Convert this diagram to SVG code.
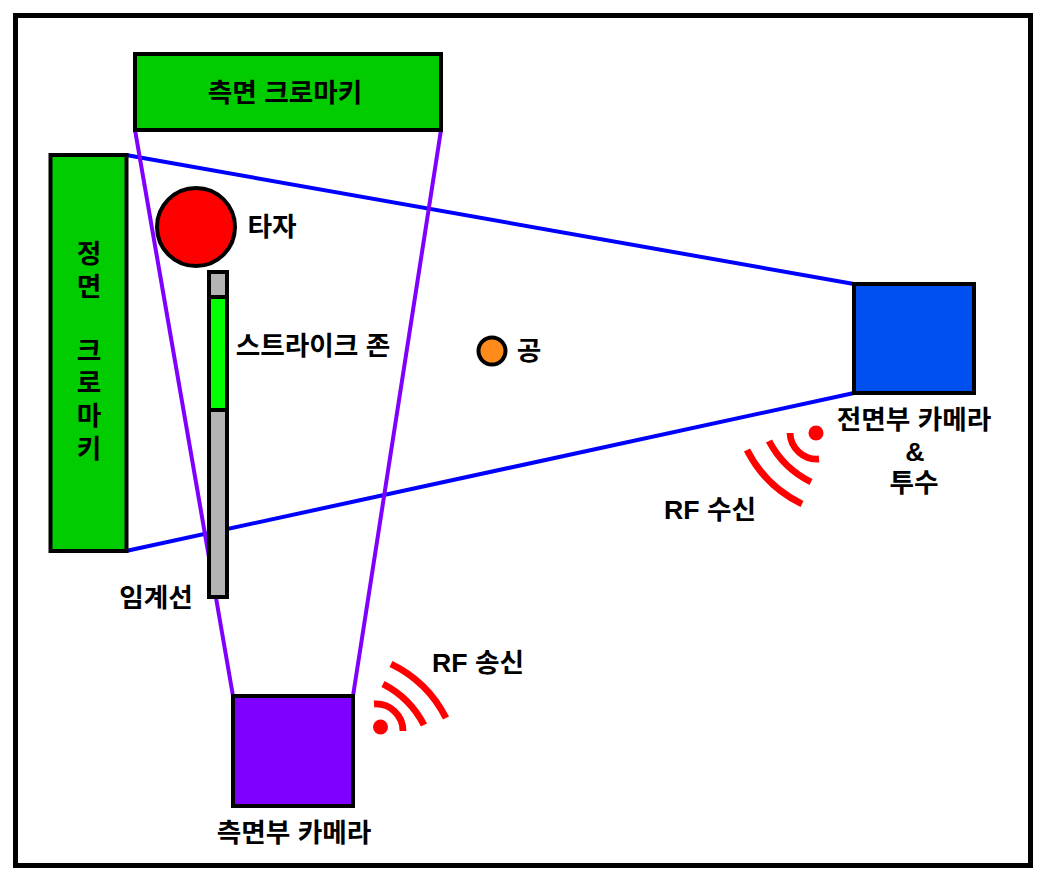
<svg xmlns="http://www.w3.org/2000/svg" width="1046" height="881" viewBox="0 0 1046 881">
<style>
.b{stroke:#000;stroke-width:4}
.t{font:bold 26.700px "Liberation Sans","Noto Sans CJK KR",sans-serif;fill:#000;text-anchor:middle}
.arc{fill:none;stroke:#f00;stroke-width:6.800}
.blue{stroke:#00f;stroke-width:4;fill:none}
.vio{stroke:#7f00ff;stroke-width:4;fill:none}
</style>
<rect id="frame" x="15.500" y="15.500" width="1015" height="850" fill="#fff" stroke="#000" stroke-width="5"/>
<g id="connectors">
<path class="blue" d="M126 155L854 284M126 551L854 393"/>
<path class="vio" d="M135 130L233 696M441 130L353 696"/>
</g>
<g id="side-chroma"><rect class="b" x="135" y="54" width="306" height="76" fill="#0c0"/><text class="t" x="285" y="102">측면 크로마키</text></g>
<g id="front-chroma"><rect class="b" x="50.500" y="155" width="76" height="396" fill="#0c0"/>
<text class="t" x="89" y="263">정</text><text class="t" x="89" y="296">면</text><text class="t" x="89" y="360">크</text><text class="t" x="89" y="392">로</text><text class="t" x="89" y="425">마</text><text class="t" x="89" y="458">키</text></g>
<g id="batter"><circle class="b" cx="196" cy="227" r="39" fill="#f00"/><text class="t" x="272" y="236">타자</text></g>
<g id="plate"><rect class="b" x="209" y="272" width="18" height="325" fill="#b3b3b3"/><text class="t" x="156" y="607">임계선</text></g>
<g id="zone"><rect class="b" x="209" y="297" width="18" height="113" fill="#0f0"/><text class="t" x="313" y="355">스트라이크 존</text></g>
<g id="ball"><circle class="b" cx="492" cy="351" r="13.500" fill="#ff8c1a"/><text class="t" x="529" y="360">공</text></g>
<g id="front-camera"><rect class="b" x="854" y="284" width="120" height="109" fill="#0050f0"/>
<text class="t" x="914" y="429">전면부 카메라</text><text class="t" x="915" y="461">&amp;</text><text class="t" x="914" y="492">투수</text></g>
<g id="side-camera"><rect class="b" x="233" y="696" width="120" height="110" fill="#7f00ff"/><text class="t" x="294" y="842">측면부 카메라</text></g>
<g id="rf-receive"><circle cx="816" cy="433" r="7.500" fill="#f00"/>
<path class="arc" d="M790 433A27 27 0 0 0 819 459M769 441A95 95 0 0 0 811 482M747 450A120 120 0 0 0 802 504"/>
<text class="t" x="710" y="519">RF 수신</text></g>
<g id="rf-send"><circle cx="380.500" cy="727" r="7.500" fill="#f00"/>
<path class="arc" d="M374 704A27 27 0 0 1 403 731M383 684A95 95 0 0 1 424 725M391 664A120 120 0 0 1 446 718"/>
<text class="t" x="478" y="672">RF 송신</text></g>
</svg>
